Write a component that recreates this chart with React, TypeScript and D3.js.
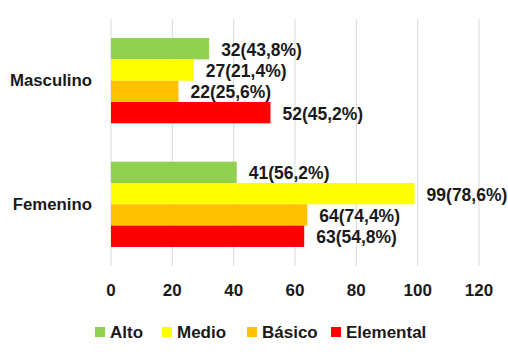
import React from "react";
import * as d3 from "d3";

const categories = ["Masculino", "Femenino"];
const series = ["Alto", "Medio", "Básico", "Elemental"];
const colors = ["#92d050", "#ffff00", "#ffc000", "#ff0000"];
const values: number[][] = [
  [32, 27, 22, 52],
  [41, 99, 64, 63],
];
const percents: string[][] = [
  ["43,8%", "21,4%", "25,6%", "45,2%"],
  ["56,2%", "78,6%", "74,4%", "54,8%"],
];
const xTicks = [0, 20, 40, 60, 80, 100, 120];

const FONT = "'Liberation Sans', Arial, sans-serif";

export default function App() {
  const W = 508, H = 357;
  const x = d3.scaleLinear().domain([0, 120]).range([111, 479]);
  const y0 = d3.scaleBand().domain(categories).range([19, 266]).paddingInner(0.31).paddingOuter(0.154);
  const y1 = d3.scaleBand().domain(series).range([0, y0.bandwidth()]);

  const legendX = [95, 162, 247, 331];

  return (
    <svg width={W} height={H} style={{ position: "absolute", left: 0, top: 0, background: "#fff" }} fontFamily={FONT} fontWeight="bold">
      {xTicks.map((t) => (
        <line key={t} x1={x(t)} x2={x(t)} y1={19} y2={266} stroke="#d9d9d9" strokeWidth={1} />
      ))}
      {categories.map((c, ci) => (
        <g key={c}>
          {series.map((s, si) => {
            const yy = (y0(c) as number) + (y1(s) as number);
            const v = values[ci][si];
            return (
              <g key={s}>
                <rect x={x(0)} y={yy} width={x(v) - x(0)} height={y1.bandwidth()} fill={colors[si]} />
                <text x={x(v) + 12} y={yy + y1.bandwidth() / 2 + 1} dominantBaseline="central" fontSize={17.5} fill="#1a1a1a">
                  {`${v}(${percents[ci][si]})`}
                </text>
              </g>
            );
          })}
          <text x={92} y={(y0(c) as number) + y0.bandwidth() / 2} textAnchor="end" dominantBaseline="central" fontSize={16.8} fill="#1a1a1a">
            {c}
          </text>
        </g>
      ))}
      {xTicks.map((t) => (
        <text key={t} x={x(t)} y={290} textAnchor="middle" dominantBaseline="central" fontSize={17} fill="#1a1a1a">
          {t}
        </text>
      ))}
      {series.map((s, si) => (
        <g key={s}>
          <rect x={legendX[si]} y={327} width={10} height={10} fill={colors[si]} />
          <text x={legendX[si] + 15} y={332} dominantBaseline="central" fontSize={17} fill="#1a1a1a">
            {s}
          </text>
        </g>
      ))}
    </svg>
  );
}
